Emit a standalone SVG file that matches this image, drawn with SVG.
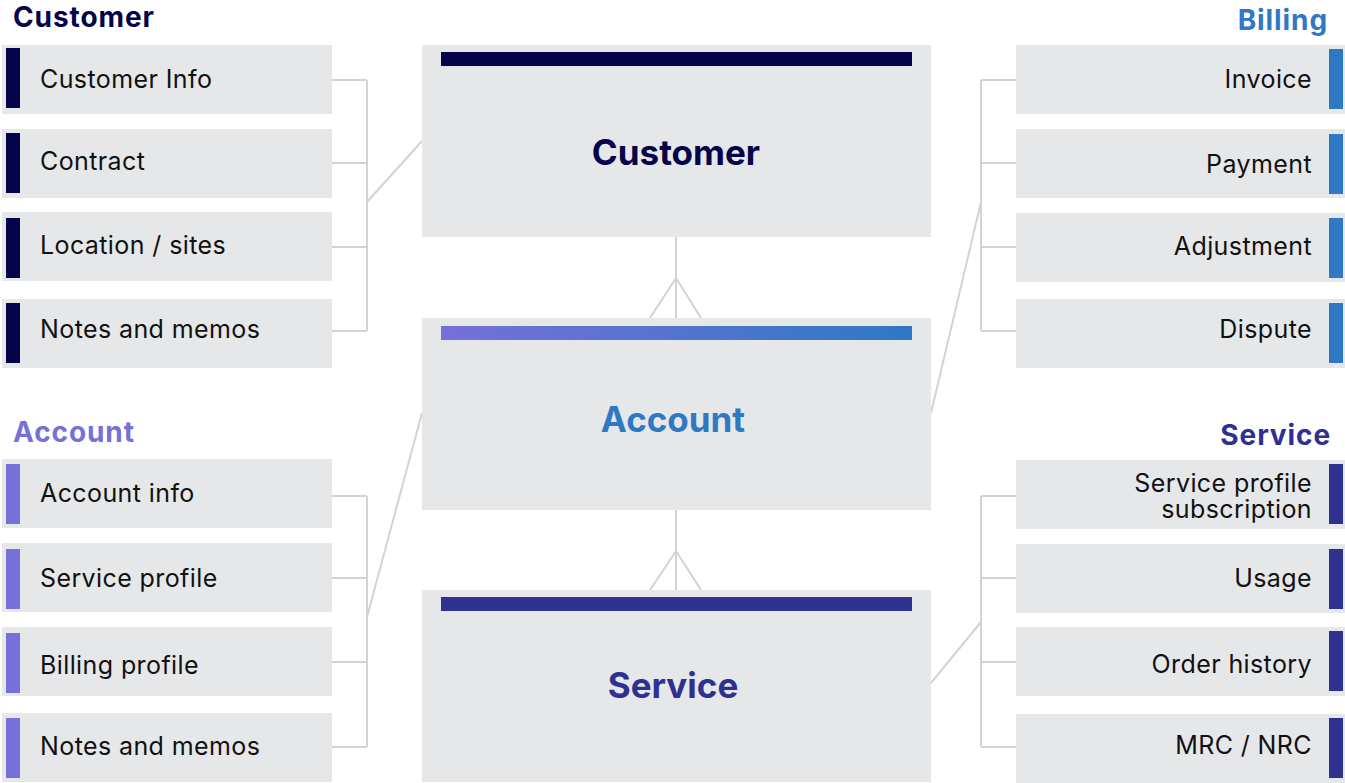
<svg xmlns="http://www.w3.org/2000/svg" width="1345" height="783" viewBox="0 0 1345 783">
  <defs>
    <linearGradient id="acctBar" x1="0" y1="0" x2="1" y2="0">
      <stop offset="0" stop-color="#7670d9"/>
      <stop offset="1" stop-color="#2f79c4"/>
    </linearGradient>
    <style>
      .card { fill: #e6e7e9; }
      .item { font-family: Inter, "Liberation Sans", sans-serif; font-size: 25px; letter-spacing: 0.4px; fill: #111111; }
      .r { text-anchor: end; }
      .title { font-family: Inter, "Liberation Sans", sans-serif; font-size: 28px; letter-spacing: 0.9px; font-weight: 700; }
      .big { font-family: Inter, "Liberation Sans", sans-serif; font-size: 35px; font-weight: 700; text-anchor: middle; }
      .link { fill: none; stroke: #d3d3d4; stroke-width: 2; }
      .navy { fill: #05044a; }
      .lav { fill: #7670d9; }
      .blue { fill: #2f79c4; }
      .indigo { fill: #2e3190; }
    </style>
  </defs>
  <rect width="1345" height="783" fill="#ffffff"/>

  <!-- connectors -->
  <g id="connectors" class="link">
    <!-- customer details -->
    <path d="M332 80H367M332 163H367M332 247H367M332 331H367M367 80V331M367 202L422 141"/>
    <!-- account details -->
    <path d="M332 496H367M332 578H367M332 662H367M332 747H367M367 496V747M367 617L422 413"/>
    <!-- billing details -->
    <path d="M1016 80H981M1016 163H981M1016 247H981M1016 331H981M981 80V331M981 202L931 413"/>
    <!-- service details -->
    <path d="M1016 496H981M1016 578H981M1016 662H981M1016 747H981M981 496V747M981 622L931 683"/>
    <!-- customer to account (one to many) -->
    <path d="M676 237V318M676 278L650 318M676 278L701 318"/>
    <!-- account to service (one to many) -->
    <path d="M676 510V590M676 551L650 590M676 551L701 590"/>
  </g>

  <!-- section titles -->
  <text class="title navy" x="13" y="27">Customer</text>
  <text class="title lav" x="13" y="442">Account</text>
  <text class="title blue r" x="1328" y="30">Billing</text>
  <text class="title indigo r" x="1331" y="445">Service</text>

  <!-- central entities -->
  <g id="customer">
    <rect class="card" x="422" y="45" width="509" height="192"/>
    <rect class="navy" x="441" y="52" width="471" height="14"/>
    <text class="big navy" x="676" y="165">Customer</text>
  </g>
  <g id="account">
    <rect class="card" x="422" y="318" width="509" height="192"/>
    <rect x="441" y="326" width="471" height="14" fill="url(#acctBar)"/>
    <text class="big blue" x="673" y="432">Account</text>
  </g>
  <g id="service">
    <rect class="card" x="422" y="590" width="509" height="192"/>
    <rect class="indigo" x="441" y="597" width="471" height="14"/>
    <text class="big indigo" x="673" y="698">Service</text>
  </g>

  <!-- customer details -->
  <g id="customer-info">
    <rect class="card" x="2" y="45" width="330" height="69"/>
    <rect class="navy" x="6" y="48" width="14" height="60"/>
    <text class="item" x="40" y="88">Customer Info</text>
  </g>
  <g id="contract">
    <rect class="card" x="2" y="129" width="330" height="69"/>
    <rect class="navy" x="6" y="133" width="14" height="60"/>
    <text class="item" x="40" y="170">Contract</text>
  </g>
  <g id="location-sites">
    <rect class="card" x="2" y="212" width="330" height="69"/>
    <rect class="navy" x="6" y="218" width="14" height="60"/>
    <text class="item" x="40" y="254">Location / sites</text>
  </g>
  <g id="customer-notes">
    <rect class="card" x="2" y="299" width="330" height="69"/>
    <rect class="navy" x="6" y="303" width="14" height="60"/>
    <text class="item" x="40" y="338">Notes and memos</text>
  </g>

  <!-- account details -->
  <g id="account-info">
    <rect class="card" x="2" y="459" width="330" height="69"/>
    <rect class="lav" x="6" y="464" width="14" height="60"/>
    <text class="item" x="40" y="502">Account info</text>
  </g>
  <g id="service-profile">
    <rect class="card" x="2" y="543" width="330" height="69"/>
    <rect class="lav" x="6" y="549" width="14" height="60"/>
    <text class="item" x="40" y="587">Service profile</text>
  </g>
  <g id="billing-profile">
    <rect class="card" x="2" y="627" width="330" height="69"/>
    <rect class="lav" x="6" y="633" width="14" height="60"/>
    <text class="item" x="40" y="674">Billing profile</text>
  </g>
  <g id="account-notes">
    <rect class="card" x="2" y="713" width="330" height="69"/>
    <rect class="lav" x="6" y="718" width="14" height="60"/>
    <text class="item" x="40" y="755">Notes and memos</text>
  </g>

  <!-- billing details -->
  <g id="invoice">
    <rect class="card" x="1016" y="45" width="329" height="69"/>
    <rect class="blue" x="1329" y="49" width="14" height="60"/>
    <text class="item r" x="1312" y="88">Invoice</text>
  </g>
  <g id="payment">
    <rect class="card" x="1016" y="129" width="329" height="69"/>
    <rect class="blue" x="1329" y="134" width="14" height="60"/>
    <text class="item r" x="1312" y="173">Payment</text>
  </g>
  <g id="adjustment">
    <rect class="card" x="1016" y="213" width="329" height="69"/>
    <rect class="blue" x="1329" y="218" width="14" height="60"/>
    <text class="item r" x="1312" y="255">Adjustment</text>
  </g>
  <g id="dispute">
    <rect class="card" x="1016" y="299" width="329" height="69"/>
    <rect class="blue" x="1329" y="303" width="14" height="60"/>
    <text class="item r" x="1312" y="338">Dispute</text>
  </g>

  <!-- service details -->
  <g id="service-profile-subscription">
    <rect class="card" x="1016" y="460" width="329" height="69"/>
    <rect class="indigo" x="1329" y="464" width="14" height="60"/>
    <text class="item r"><tspan x="1312" y="492">Service profile</tspan><tspan x="1312" y="518">subscription</tspan></text>
  </g>
  <g id="usage">
    <rect class="card" x="1016" y="544" width="329" height="69"/>
    <rect class="indigo" x="1329" y="549" width="14" height="60"/>
    <text class="item r" x="1312" y="587">Usage</text>
  </g>
  <g id="order-history">
    <rect class="card" x="1016" y="627" width="329" height="69"/>
    <rect class="indigo" x="1329" y="631" width="14" height="60"/>
    <text class="item r" x="1312" y="673">Order history</text>
  </g>
  <g id="mrc-nrc">
    <rect class="card" x="1016" y="714" width="329" height="69"/>
    <rect class="indigo" x="1329" y="718" width="14" height="60"/>
    <text class="item r" x="1312" y="754">MRC / NRC</text>
  </g>
</svg>
